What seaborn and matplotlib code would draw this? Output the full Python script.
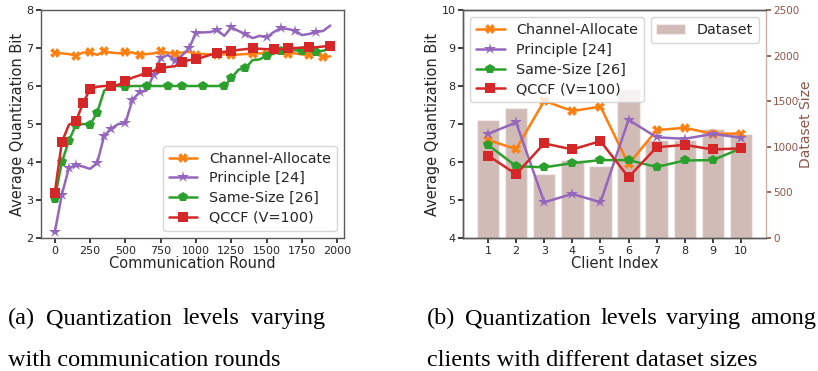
import numpy as np
import pandas as pd
import matplotlib
matplotlib.use("Agg")
import matplotlib.pyplot as plt
import seaborn as sns

# ---------------- data: (a) quantization vs communication round ----------------
rounds = list(range(0, 2000, 50))
channel_allocate = [6.87, 6.86, 6.84, 6.80, 6.88, 6.89, 6.82, 6.91, 6.88, 6.86,
                    6.89, 6.88, 6.82, 6.84, 6.86, 6.91, 6.88, 6.84, 6.88, 6.90,
                    6.82, 6.84, 6.83, 6.82, 6.84, 6.81, 6.83, 6.84, 6.85, 6.86,
                    6.85, 6.87, 6.86, 6.85, 6.86, 6.83, 6.82, 6.84, 6.76, 6.78]
principle = [2.15, 3.14, 3.84, 3.92, 3.88, 3.82, 3.97, 4.69, 4.88, 5.00,
             5.02, 5.64, 5.83, 5.88, 6.30, 6.73, 6.82, 6.67, 6.80, 6.99,
             7.40, 7.41, 7.42, 7.47, 7.32, 7.54, 7.45, 7.37, 7.26, 7.32,
             7.28, 7.42, 7.52, 7.50, 7.46, 7.34, 7.37, 7.42, 7.45, 7.59]
same_size = [3.03, 3.99, 4.56, 4.98, 5.00, 4.98, 5.30, 5.88, 6.00, 6.00,
             5.98, 6.00, 6.00, 6.00, 6.00, 6.00, 6.00, 6.00, 6.00, 6.00,
             6.00, 6.00, 6.00, 6.00, 6.00, 6.20, 6.43, 6.47, 6.68, 6.70,
             6.80, 6.85, 6.93, 6.93, 6.94, 6.92, 6.92, 6.89, 6.93, 6.98]
qccf = [3.18, 4.52, 4.98, 5.07, 5.55, 5.92, 5.98, 6.00, 6.00, 6.03,
        6.13, 6.22, 6.28, 6.36, 6.40, 6.47, 6.50, 6.52, 6.63, 6.68,
        6.70, 6.76, 6.82, 6.88, 6.90, 6.92, 6.95, 6.97, 6.99, 6.98,
        6.97, 6.97, 6.97, 6.99, 7.00, 7.01, 7.03, 7.02, 7.04, 7.06]
# indices of the points that carry a marker
mark_ca = [0, 3, 5, 7, 10, 12, 15, 17, 20, 23, 25, 28, 30, 33, 36, 38]
mark_pr = [0, 1, 2, 3, 6, 7, 8, 10, 11, 12, 14, 15, 17, 19, 20, 23, 25, 27, 30, 32, 34, 37]
mark_ss = [0, 1, 2, 3, 5, 6, 8, 10, 13, 16, 18, 21, 24, 25, 27, 30, 32, 35, 37]
mark_qc = [0, 1, 3, 4, 5, 8, 10, 13, 15, 18, 20, 23, 25, 28, 31, 33, 36, 39]

# ---------------- data: (b) quantization per client ----------------
clients = [1, 2, 3, 4, 5, 6, 7, 8, 9, 10]
dataset_size = [1290, 1430, 700, 850, 790, 1630, 1080, 1080, 1190, 1140]
client_ca = [6.58, 6.34, 7.61, 7.34, 7.46, 5.94, 6.84, 6.90, 6.74, 6.75]
client_pr = [6.74, 7.04, 4.94, 5.16, 4.94, 7.11, 6.65, 6.61, 6.74, 6.64]
client_ss = [6.45, 5.89, 5.86, 5.97, 6.05, 6.05, 5.87, 6.04, 6.05, 6.36]
client_qc = [6.17, 5.68, 6.49, 6.33, 6.55, 5.60, 6.39, 6.45, 6.33, 6.36]

labels = ["Channel-Allocate", "Principle [24]", "Same-Size [26]", "QCCF (V=100)"]
colors = ["#ff7f0e", "#9467bd", "#2ca02c", "#d62728"]
markers = ["X", "*", "p", "s"]
msizes = [7, 9, 7.5, 7]
brown = "#8c564b"

sns.set_theme(style="ticks")
plt.rcParams.update({
    "font.family": ["DejaVu Sans"],
    "axes.edgecolor": "0.35",
    "axes.linewidth": 1.0,
    "xtick.color": "0.15",
    "ytick.color": "0.15",
    "xtick.labelsize": 8,
    "ytick.labelsize": 8,
    "xtick.major.size": 3.5,
    "ytick.major.size": 3.5,
    "xtick.major.pad": 2,
    "ytick.major.pad": 2,
})

fig = plt.figure(figsize=(8.18, 3.71), dpi=100)
axA = fig.add_axes([0.0501, 0.3585, 0.3704, 0.6145])
axB = fig.add_axes([0.566, 0.3585, 0.3704, 0.6145])

LEG = 10.4

# ----- (a)
seriesA = [channel_allocate, principle, same_size, qccf]
marksA = [mark_ca, mark_pr, mark_ss, mark_qc]
for vals, lab, col, mk, ms, me in zip(seriesA, labels, colors, markers, msizes, marksA):
    sns.lineplot(x=rounds, y=vals, ax=axA, color=col, marker=mk, markersize=ms,
                 markevery=me, linewidth=1.8, markeredgewidth=0, label=lab)
axA.set_ylim(2, 8)
axA.set_xticks([0, 250, 500, 750, 1000, 1250, 1500, 1750, 2000])
axA.set_yticks([2, 3, 4, 5, 6, 7, 8])
axA.set_xlabel("Communication Round", fontsize=10.5, labelpad=0)
axA.set_ylabel("Average Quantization Bit", fontsize=10.5, labelpad=1)
axA.legend(loc="lower right", fontsize=LEG, frameon=True, framealpha=0.8,
           handlelength=2.0, borderpad=0.4, labelspacing=0.4)
for s in axA.spines.values():
    s.set_visible(True)

# ----- (b)
axB2 = axB.twinx()
sns.barplot(x=clients, y=dataset_size, ax=axB2, native_scale=True,
            color=brown, alpha=0.4, width=0.8, label="Dataset", saturation=1)
axB2.set_ylim(0, 2500)
axB2.set_yticks([0, 500, 1000, 1500, 2000, 2500])
axB2.set_ylabel("Dataset Size", fontsize=10, color=brown)
axB2.yaxis.set_label_coords(1.108, 0.5)
axB2.tick_params(axis="y", colors=brown, labelcolor=brown, labelsize=7.5, pad=1.5)
axB2.spines["right"].set_color("#c9b0aa")
axB2.legend(loc="upper right", fontsize=LEG, framealpha=0.8,
            handlelength=2.0, borderpad=0.4)

seriesB = [client_ca, client_pr, client_ss, client_qc]
for vals, lab, col, mk, ms in zip(seriesB, labels, colors, markers, msizes):
    sns.lineplot(x=clients, y=vals, ax=axB, color=col, marker=mk, markersize=ms,
                 linewidth=1.8, markeredgewidth=0, label=lab)
axB.set_zorder(axB2.get_zorder() + 1)
axB.patch.set_visible(False)
axB.set_ylim(4, 10)
axB.set_xlim(0.11, 10.89)
axB.set_xticks(clients)
axB.set_yticks([4, 5, 6, 7, 8, 9, 10])
axB.set_xlabel("Client Index", fontsize=10.5, labelpad=0)
axB.set_ylabel("Average Quantization Bit", fontsize=10.5, labelpad=1)
axB.legend(loc="upper left", fontsize=LEG, framealpha=0.8,
           handlelength=2.0, borderpad=0.4, labelspacing=0.4)
for s in axB.spines.values():
    s.set_visible(True)
axB.spines["right"].set_visible(False)

# ----- captions (justified lines in serif)
fig.canvas.draw()
renderer = fig.canvas.get_renderer()
cap_font = dict(family=["Liberation Serif", "DejaVu Serif"], fontsize=17.5, color="black")
W, H = 818, 371


def justified(words, x0, x1, y):
    texts = [fig.text(0, 1 - y / H, w, va="baseline", ha="left", **cap_font) for w in words]
    widths = [t.get_window_extent(renderer).width for t in texts]
    gap = (x1 - x0 - sum(widths)) / max(len(words) - 1, 1)
    x = x0
    for t, w in zip(texts, widths):
        t.set_x(x / W)
        x += w + gap


def plain(s, x0, y):
    fig.text(x0 / W, 1 - y / H, s, va="baseline", ha="left", **cap_font)


justified(["(a)", "Quantization", "levels", "varying"], 8, 325, 324)
plain("with communication rounds", 8, 366)
justified(["(b)", "Quantization", "levels", "varying", "among"], 427, 816, 324)
plain("clients with different dataset sizes", 427, 366)

fig.savefig("out.png", dpi=100)
